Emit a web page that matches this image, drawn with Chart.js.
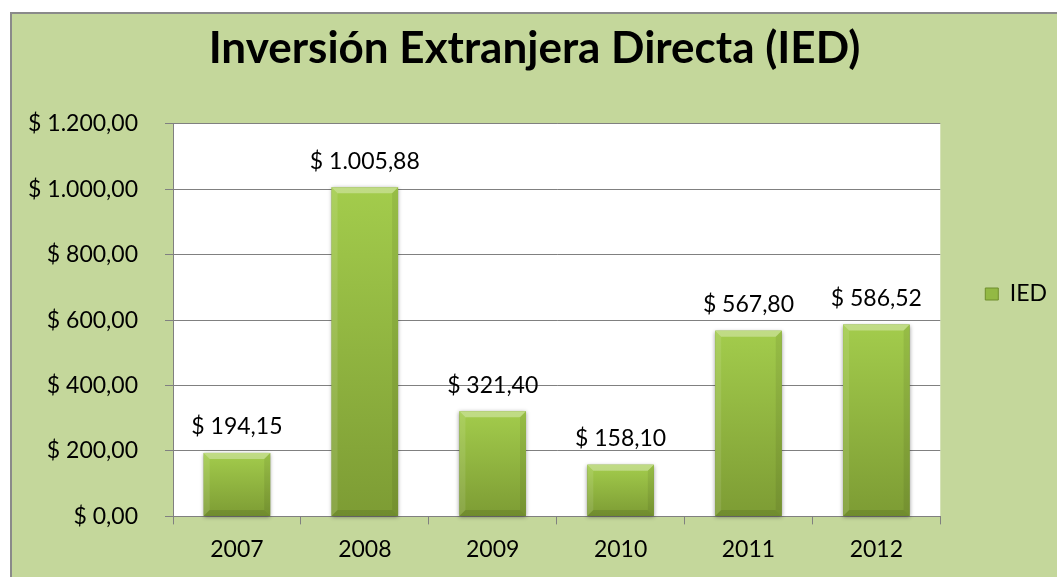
<!DOCTYPE html>
<html>
<head>
<meta charset="utf-8">
<script src="https://cdn.jsdelivr.net/npm/chart.js@4.4.0/dist/chart.umd.min.js"></script>
<style>
  body { margin: 0; background: #fff; overflow: hidden; }
  #wrap {
    position: absolute; left: 10px; top: 12px; width: 1100px; height: 600px;
    border-left: 2px solid #8a8a8a; border-top: 2px solid #8a8a8a;
    background: #C4D79B;
  }
  #chart { position: absolute; left: 0; top: 0; }
</style>
</head>
<body>
<div id="wrap"><canvas id="chart" width="1045" height="563"></canvas></div>
<script>
const years = ['2007', '2008', '2009', '2010', '2011', '2012'];
const iedValues = [194.15, 1005.88, 321.40, 158.10, 567.80, 586.52];
const yTicks = [0, 200, 400, 600, 800, 1000, 1200];

// formato es: $ 1.005,88
function money(v) {
  let parts = v.toFixed(2).split('.');
  parts[0] = parts[0].replace(/\B(?=(\d{3})+(?!\d))/g, '.');
  return '$ ' + parts[0] + ',' + parts[1];
}

const FONT = 'Lato, "Open Sans", sans-serif';

// white plot area
const plotBg = {
  id: 'plotBg',
  beforeDraw(chart) {
    const a = chart.chartArea, c = chart.ctx;
    c.save();
    c.fillStyle = '#fff';
    c.fillRect(a.left, a.top, a.right - a.left, a.bottom - a.top);
    c.restore();
  }
};

// bars with bevel look, drawn on top of the bar elements
const bevelBars = {
  id: 'bevelBars',
  afterDatasetsDraw(chart) {
    const c = chart.ctx;
    chart.getDatasetMeta(0).data.forEach(bar => {
      const l = bar.x - bar.width / 2, r = bar.x + bar.width / 2;
      const t = bar.y, b = bar.base, e = 6;
      c.save();
      c.shadowColor = 'rgba(0,0,0,0.4)';
      c.shadowBlur = 4;
      c.shadowOffsetY = 1;
      const g = c.createLinearGradient(0, t, 0, b);
      g.addColorStop(0, '#A3CC4C');
      g.addColorStop(1, '#7D9C34');
      c.fillStyle = g;
      c.fillRect(l, t, r - l, b - t);
      c.restore();
      c.save();
      c.fillStyle = 'rgba(255,255,255,0.32)';
      c.beginPath(); c.moveTo(l, t); c.lineTo(r, t); c.lineTo(r - e, t + e); c.lineTo(l + e, t + e); c.fill();
      c.fillStyle = 'rgba(255,255,255,0.10)';
      c.beginPath(); c.moveTo(l, t); c.lineTo(l + e, t + e); c.lineTo(l + e, b - e); c.lineTo(l, b); c.fill();
      c.fillStyle = 'rgba(0,0,0,0.07)';
      c.beginPath(); c.moveTo(r, t); c.lineTo(r - e, t + e); c.lineTo(r - e, b - e); c.lineTo(r, b); c.fill();
      c.fillStyle = 'rgba(0,0,0,0.10)';
      c.beginPath(); c.moveTo(l, b); c.lineTo(r, b); c.lineTo(r - e, b - e); c.lineTo(l + e, b - e); c.fill();
      c.restore();
    });
  }
};

const valueLabels = {
  id: 'valueLabels',
  afterDatasetsDraw(chart) {
    const c = chart.ctx;
    c.save();
    c.font = '23px ' + FONT;
    c.fillStyle = '#000';
    c.textAlign = 'center';
    c.textBaseline = 'middle';
    chart.getDatasetMeta(0).data.forEach((bar, i) => {
      c.fillText(money(iedValues[i]), bar.x, bar.y - 26);
    });
    c.restore();
  }
};

new Chart(document.getElementById('chart'), {
  type: 'bar',
  data: {
    labels: years,
    datasets: [{
      label: 'IED',
      data: iedValues,
      backgroundColor: '#93B944',
      borderWidth: 0,
      barPercentage: 0.52,
      categoryPercentage: 1
    }]
  },
  options: {
    responsive: false,
    animation: false,
    layout: { padding: { left: 0, right: 0, top: 0, bottom: 3 } },
    scales: {
      x: {
        grid: { drawOnChartArea: false, drawTicks: true, tickLength: 8, color: '#808080', offset: true },
        border: { color: '#808080' },
        ticks: { font: { size: 23, family: FONT }, color: '#000', padding: 11 }
      },
      y: {
        min: 0, max: 1200,
        afterBuildTicks: s => { s.ticks = yTicks.map(v => ({ value: v })); },
        afterFit: s => { s.width = 161; },
        grid: { color: '#808080', tickLength: 8 },
        border: { color: '#808080' },
        ticks: { font: { size: 23, family: FONT }, color: '#000', padding: 27, callback: v => money(v) }
      }
    },
    plugins: {
      title: {
        display: true,
        text: 'Inversión Extranjera Directa (IED)',
        font: { size: 44, weight: 'bold', family: FONT },
        color: '#000',
        padding: { top: 8, bottom: 49 }
      },
      legend: {
        position: 'right',
        labels: {
          font: { size: 23, family: FONT }, color: '#000',
          boxWidth: 13, boxHeight: 12, padding: 45,
          generateLabels: () => [{ text: 'IED', fillStyle: '#93B944', strokeStyle: '#6F8E2C', lineWidth: 1, datasetIndex: 0 }]
        }
      },
      tooltip: { enabled: false }
    }
  },
  plugins: [plotBg, bevelBars, valueLabels]
});
</script>
</body>
</html>
